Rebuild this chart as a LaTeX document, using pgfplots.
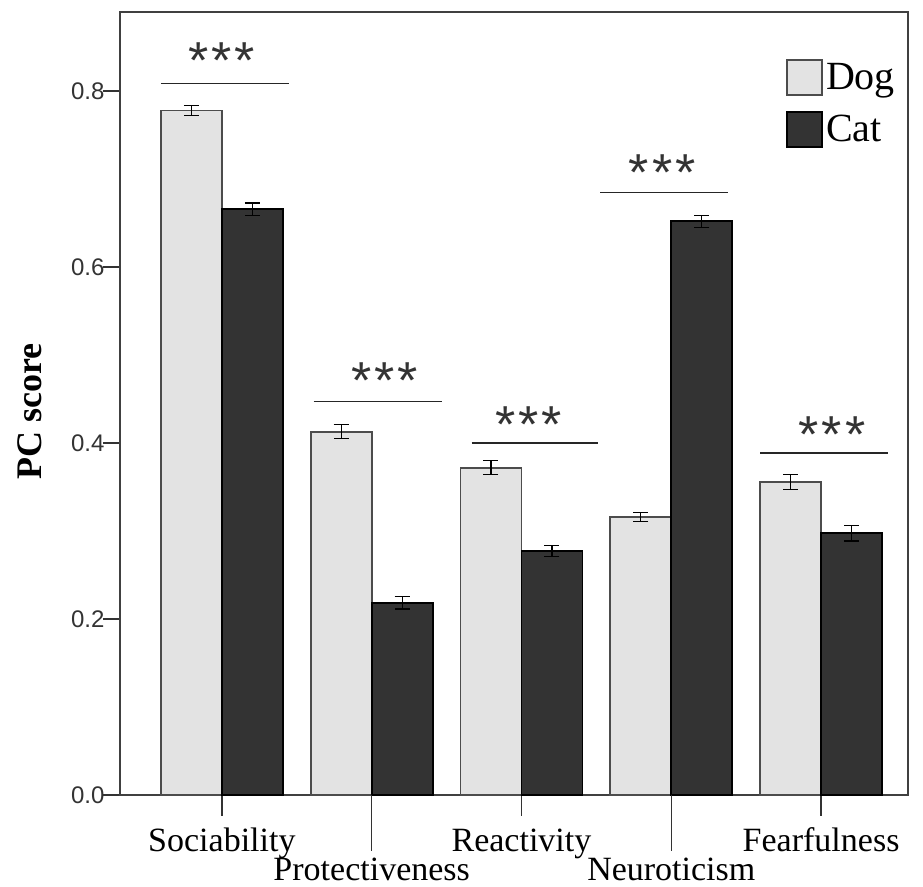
\documentclass[border=0pt]{standalone}
\usepackage{fontspec}
\setmainfont{Liberation Serif}
\newfontfamily\sansf{Liberation Sans}
\usepackage{pgfplots}
\pgfplotsset{compat=1.18}
\definecolor{dogfill}{HTML}{E3E3E3}
\definecolor{catfill}{HTML}{333333}
\begin{document}
\begin{tikzpicture}
\begin{axis}[
 scale only axis, width=394pt, height=391.5pt,
 xmin=-0.68, xmax=4.58, ymin=0, ymax=0.89,
 clip=false,
 ybar=0pt, bar width=30.5pt,
 axis line style={black!75, line width=0.8pt},
 tick align=outside, xtick pos=bottom, ytick pos=left,
 /pgf/number format/assume math mode=true,
 ytick={0,0.2,0.4,0.6,0.8},
 yticklabel style={/pgf/number format/fixed, /pgf/number format/fixed zerofill, /pgf/number format/precision=1, font=\sansf\fontsize{12}{14}\selectfont, text=black!80},
 ytick style={black!80, line width=0.8pt, /pgfplots/major tick length=8.5pt},
 xtick={0,2,4}, xticklabels={Sociability, Reactivity, Fearfulness},
 xtick style={black!80, line width=0.8pt, /pgfplots/major tick length=10.5pt},
 xticklabel style={font=\fontsize{17}{20}\selectfont, anchor=base, yshift=-24pt},
 extra x ticks={1,3}, extra x tick labels={Protectiveness, Neuroticism},
 extra x tick style={xticklabel style={yshift=-14.5pt}},
 every axis y label/.style={at={(rel axis cs:0,0.49)}, xshift=-45pt, rotate=90, anchor=center},
 ylabel={\bfseries\fontsize{18}{20}\selectfont PC score},
 legend cell align=left,
 legend style={draw=none, fill=none, at={(rel axis cs:0.845,0.94)}, anchor=north west, inner sep=0pt, row sep=7.5pt, font=\fontsize{20}{22}\selectfont, nodes={inner sep=1.5pt}},
 legend image code/.code={\draw[#1] (0pt,-8.75pt) rectangle (17.5pt,8.75pt);},
 error bars/y dir=both, error bars/y explicit,
 error bars/error bar style={black, line width=0.6pt},
 error bars/error mark options={rotate=90, mark size=3.75pt, line width=0.6pt, black},
]
\addplot[fill=dogfill, draw=black!70, line width=0.9pt] coordinates {
 (0,0.778) +- (0,0.006)
 (1,0.413) +- (0,0.008)
 (2,0.372) +- (0,0.008)
 (3,0.316) +- (0,0.005)
 (4,0.356) +- (0,0.0085)
};
\addplot[fill=catfill, draw=black, line width=0.9pt] coordinates {
 (0,0.666) +- (0,0.007)
 (1,0.2185) +- (0,0.007)
 (2,0.2775) +- (0,0.006)
 (3,0.652) +- (0,0.007)
 (4,0.2977) +- (0,0.009)
};
\legend{Dog,Cat}
\coordinate (sw) at (rel axis cs:0,0);
\draw[black!80, line width=0.8pt] (axis cs:1,0) -- ++(0pt,-28pt);
\draw[black!80, line width=0.8pt] (axis cs:3,0) -- ++(0pt,-28pt);
\draw[black!85, line width=0.7pt] (axis cs:-0.407,0.809) -- (axis cs:0.447,0.809);
\draw[black!85, line width=0.7pt] (axis cs:0.613,0.447) -- (axis cs:1.467,0.447);
\draw[black!85, line width=0.7pt] (axis cs:1.667,0.400) -- (axis cs:2.513,0.400);
\draw[black!85, line width=0.7pt] (axis cs:2.527,0.685) -- (axis cs:3.38,0.685);
\draw[black!85, line width=0.7pt] (axis cs:3.593,0.3886) -- (axis cs:4.447,0.3886);
\tikzset{stars/.style={font=\sansf\fontsize{26}{26}\selectfont, text=black!80, inner sep=0pt, anchor=center, yshift=-3.5pt}}
\node[stars] at (axis cs:0,0.843) {*\hspace{1.5pt}*\hspace{1.5pt}*};
\node[stars] at (axis cs:1.087,0.4795) {*\hspace{1.5pt}*\hspace{1.5pt}*};
\node[stars] at (axis cs:2.047,0.4295) {*\hspace{1.5pt}*\hspace{1.5pt}*};
\node[stars] at (axis cs:2.94,0.715) {*\hspace{1.5pt}*\hspace{1.5pt}*};
\node[stars] at (axis cs:4.073,0.418) {*\hspace{1.5pt}*\hspace{1.5pt}*};
\end{axis}
\pgfresetboundingbox
\path[use as bounding box] (sw) ++(-60pt,-46pt) rectangle ++(461.5pt,443.5pt);
\end{tikzpicture}
\end{document}
